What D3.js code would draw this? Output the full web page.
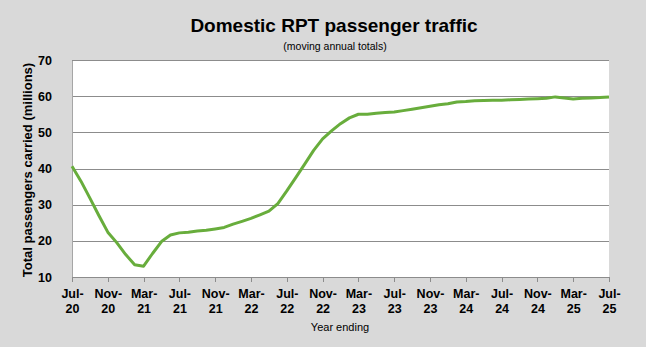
<!DOCTYPE html>
<html><head><meta charset="utf-8">
<script src="https://cdn.jsdelivr.net/npm/d3@7/dist/d3.min.js"></script>
<style>
html,body{margin:0;padding:0;background:#d9d9d9;}
svg{display:block;font-family:Arial,"Liberation Sans",sans-serif;}
</style></head>
<body>
<svg id="chart" width="646" height="347"></svg>
<script>
const months = ["Jul-20","Aug-20","Sep-20","Oct-20","Nov-20","Dec-20","Jan-21","Feb-21","Mar-21","Apr-21","May-21","Jun-21",
"Jul-21","Aug-21","Sep-21","Oct-21","Nov-21","Dec-21","Jan-22","Feb-22","Mar-22","Apr-22","May-22","Jun-22",
"Jul-22","Aug-22","Sep-22","Oct-22","Nov-22","Dec-22","Jan-23","Feb-23","Mar-23","Apr-23","May-23","Jun-23",
"Jul-23","Aug-23","Sep-23","Oct-23","Nov-23","Dec-23","Jan-24","Feb-24","Mar-24","Apr-24","May-24","Jun-24",
"Jul-24","Aug-24","Sep-24","Oct-24","Nov-24","Dec-24","Jan-25","Feb-25","Mar-25","Apr-25","May-25","Jun-25","Jul-25"];
const passengers = [40.6,36.5,31.8,27.0,22.4,19.5,16.2,13.4,13.0,16.5,19.8,21.6,
22.2,22.4,22.7,22.9,23.3,23.7,24.6,25.4,26.2,27.2,28.2,30.3,
33.8,37.5,41.2,45.0,48.2,50.4,52.4,54.0,55.0,55.0,55.3,55.5,
55.6,56.0,56.4,56.8,57.2,57.6,57.9,58.4,58.5,58.7,58.8,58.9,
58.9,59.0,59.1,59.2,59.3,59.4,59.8,59.5,59.2,59.4,59.5,59.6,59.8];
const tickLabels = ["Jul-20","Nov-20","Mar-21","Jul-21","Nov-21","Mar-22","Jul-22","Nov-22","Mar-23","Jul-23","Nov-23","Mar-24","Jul-24","Nov-24","Mar-25","Jul-25"];
const yTicks = [10,20,30,40,50,60,70];

const svg = d3.select("#chart");
const pL = 72, pR = 609, pT = 60, pB = 277;

svg.append("rect").attr("x",pL).attr("y",pT).attr("width",pR-pL).attr("height",pB-pT).attr("fill","#fff");

const x = d3.scalePoint().domain(months).range([pL,pR]);
const y = d3.scaleLinear().domain([10,70]).range([pB,pT]);

// gridlines
svg.append("g").selectAll("line").data(yTicks.slice(1)).join("line")
  .attr("x1",pL).attr("x2",pR).attr("y1",d=>Math.round(y(d))+0.5).attr("y2",d=>Math.round(y(d))+0.5)
  .attr("stroke","#8c8c8c").attr("stroke-width",1);

// y axis
const yAxis = svg.append("g").attr("transform",`translate(${pL},0)`)
  .call(d3.axisLeft(y).tickValues(yTicks).tickSize(0).tickPadding(20));
yAxis.select(".domain").attr("stroke","#a6a6a6").attr("shape-rendering","crispEdges");
yAxis.selectAll("text").attr("font-size","12.5px").attr("font-weight","bold").attr("fill","#000")
  .attr("font-family","Arial,'Liberation Sans',sans-serif");

// x axis
const xAxis = svg.append("g").attr("transform",`translate(0,${pB})`)
  .call(d3.axisBottom(x).tickValues(tickLabels).tickSize(5).tickSizeOuter(0).tickFormat(""));
xAxis.select(".domain").attr("stroke","#8c8c8c").attr("shape-rendering","crispEdges");
xAxis.selectAll(".tick line").attr("stroke","#8c8c8c").attr("shape-rendering","crispEdges");
const tk = xAxis.selectAll(".tick").append("text").attr("fill","#000")
  .attr("font-size","12.5px").attr("font-weight","bold").attr("text-anchor","middle")
  .attr("font-family","Arial,'Liberation Sans',sans-serif");
tk.append("tspan").attr("x",0).attr("y",21).text(d=>d.split("-")[0]+"-");
tk.append("tspan").attr("x",0).attr("y",36).text(d=>d.split("-")[1]);

// line
svg.append("path").datum(passengers)
  .attr("fill","none").attr("stroke","#68ad3c").attr("stroke-width",3).attr("stroke-linejoin","round")
  .attr("d", d3.line().x((d,i)=>x(months[i])).y(d=>y(d)));

// titles
svg.append("text").attr("x",334).attr("y",32).attr("text-anchor","middle")
  .attr("font-size","19px").attr("font-weight","bold").text("Domestic RPT passenger traffic");
svg.append("text").attr("x",335).attr("y",50).attr("text-anchor","middle")
  .attr("font-size","10.5px").text("(moving annual totals)");
svg.append("text").attr("x",340).attr("y",331).attr("text-anchor","middle")
  .attr("font-size","11px").text("Year ending");
svg.append("text").attr("transform","translate(32,170) rotate(-90)").attr("text-anchor","middle")
  .attr("font-size","13px").attr("font-weight","bold").text("Total passengers carried (millions)");
</script>
</body></html>
